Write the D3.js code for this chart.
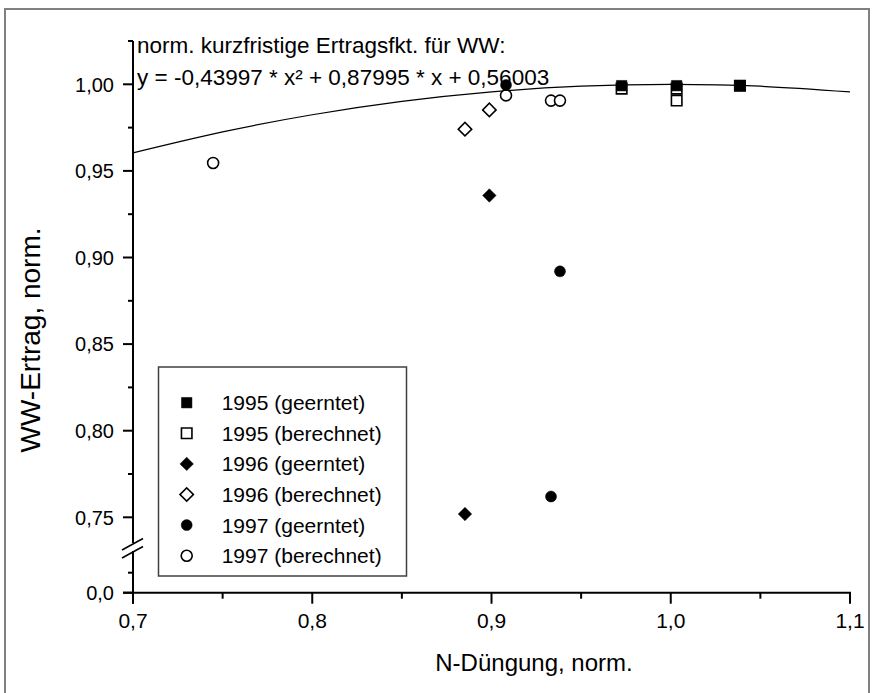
<!DOCTYPE html>
<html>
<head>
<meta charset="utf-8">
<script src="https://cdn.jsdelivr.net/npm/d3@7"></script>
<style>
	body { margin: 0; background: #fff; }
	svg { display: block; font-family: Arial, 'Liberation Sans', sans-serif; }
	.tick-label { font-size: 20px; fill: #000; }
	.legend-text { font-size: 21px; fill: #000; }
</style>
</head>
<body>
<svg id="chart"></svg>
<script>
// Series values
const seriesNames = [
	'1995 (geerntet)',
	'1995 (berechnet)',
	'1996 (geerntet)',
	'1996 (berechnet)',
	'1997 (geerntet)',
	'1997 (berechnet)',
];
const symbols = [ 'square', 'square', 'diamond', 'diamond', 'circle', 'circle' ];
const filled = [ true, false, true, false, true, false ];

const x1995geerntet = [ 0.9726, 1.0033, 1.0386 ];
const y1995geerntet = [ 0.9992, 0.9992, 0.9992 ];
const x1995berechnet = [ 0.9726, 1.0033, 1.0033, 1.0386 ];
const y1995berechnet = [ 0.9975, 0.9975, 0.9906, 0.9992 ];
const x1996geerntet = [ 0.8988, 0.8852 ];
const y1996geerntet = [ 0.9358, 0.7519 ];
const x1996berechnet = [ 0.8852, 0.8988 ];
const y1996berechnet = [ 0.9741, 0.9852 ];
const x1997geerntet = [ 0.9081, 0.9382, 0.9332 ];
const y1997geerntet = [ 0.9996, 0.8920, 0.7620 ];
const x1997berechnet = [ 0.7447, 0.9081, 0.9332, 0.9382 ];
const y1997berechnet = [ 0.9546, 0.9936, 0.9906, 0.9906 ];

// Fitted curve, points
const curveX = [ 0.70, 0.75, 0.80, 0.85, 0.90, 0.95, 1.00, 1.05, 1.10 ];
const curveY = [ 0.9604, 0.9725, 0.9824, 0.9901, 0.9956, 0.9989, 1.0000, 0.9989, 0.9956 ];

// Tick labels
const xTickValues = [ 0.7, 0.8, 0.9, 1.0, 1.1 ];
const xTickLabels = [ '0,7', '0,8', '0,9', '1,0', '1,1' ];
const yTickValues = [ 0.75, 0.80, 0.85, 0.90, 0.95, 1.00 ];
const yTickLabels = [ '0,75', '0,80', '0,85', '0,90', '0,95', '1,00' ];
const yLowTickValues = [ 0 ];
const yLowTickLabels = [ '0,0' ];

const fitLine1 = 'norm. kurzfristige Ertragsfkt. für WW:';
const fitLine2 = 'y = -0,43997 * x² + 0,87995 * x + 0,56003';

const seriesX = [ x1995geerntet, x1995berechnet, x1996geerntet, x1996berechnet, x1997geerntet, x1997berechnet ];
const seriesY = [ y1995geerntet, y1995berechnet, y1996geerntet, y1996berechnet, y1997geerntet, y1997berechnet ];

// Diamonds are squares turned by 45 degrees
function symbolPath( type ) {
	if ( type === 'circle' ) {
		return d3.symbol().type( d3.symbolCircle ).size( 95 )();
	}
	if ( type === 'diamond' ) {
		return d3.symbol().type( d3.symbolSquare ).size( 90 )();
	}
	return d3.symbol().type( d3.symbolSquare ).size( 110 )();
}

function symbolTransform( type, px, py ) {
	return `translate(${ px },${ py })` + ( type === 'diamond' ? ' rotate(45)' : '' );
}

function drawChart( selector ) {
	const width = 872;
	const height = 693;

	const svg = d3.select( selector )
		.attr( 'width', width )
		.attr( 'height', height );

	// Outer frame
	svg.append( 'rect' )
		.attr( 'x', 5 )
		.attr( 'y', 9 )
		.attr( 'width', 864 )
		.attr( 'height', 720 )
		.attr( 'fill', 'none' )
		.attr( 'stroke', '#808080' )
		.attr( 'stroke-width', 2 );

	// Scales: upper part of the broken axis and the lower stub
	const xScale = d3.scaleLinear()
		.domain( [ 0.7, 1.1 ] )
		.range( [ 133, 850 ] );

	const yScale = d3.scaleLinear()
		.domain( [ 0.75, 1.0 ] )
		.range( [ 517.3, 84.3 ] );

	const yLowScale = d3.scaleLinear()
		.domain( [ 0, 0.05 ] )
		.range( [ 592.7, 552.7 ] );

	const axisX = xScale( 0.7 );
	const axisY = yLowScale( 0 );
	const breakTop = 543;
	const breakBottom = 551;

	const g = svg.append( 'g' );

	// Fit curve
	const curveData = curveX.map( ( d, i ) => [ d, curveY[ i ] ] );
	g.append( 'path' )
		.datum( curveData )
		.attr( 'fill', 'none' )
		.attr( 'stroke', '#000' )
		.attr( 'stroke-width', 1.2 )
		.attr( 'd', d3.line()
			.x( ( d ) => xScale( d[ 0 ] ) )
			.y( ( d ) => yScale( d[ 1 ] ) )
			.curve( d3.curveNatural ) );

	// Y axis (upper part)
	g.append( 'line' )
		.attr( 'x1', axisX ).attr( 'x2', axisX )
		.attr( 'y1', yScale( 1.025 ) ).attr( 'y2', breakTop )
		.attr( 'stroke', '#000' ).attr( 'stroke-width', 2 );

	// Y axis (lower part)
	g.append( 'line' )
		.attr( 'x1', axisX ).attr( 'x2', axisX )
		.attr( 'y1', breakBottom ).attr( 'y2', axisY + 11 )
		.attr( 'stroke', '#000' ).attr( 'stroke-width', 2 );

	// Break marks
	[ 0, 8 ].forEach( ( off ) => {
		g.append( 'line' )
			.attr( 'x1', axisX - 11 ).attr( 'y1', 550 + off )
			.attr( 'x2', axisX + 10 ).attr( 'y2', 538.5 + off )
			.attr( 'stroke', '#000' ).attr( 'stroke-width', 1.5 );
	} );

	// Y ticks
	const yMinor = d3.range( 0.75, 1.03, 0.025 ).filter( ( v ) => Math.abs( v * 20 - Math.round( v * 20 ) ) > 0.01 );
	yMinor.forEach( ( v ) => {
		g.append( 'line' )
			.attr( 'x1', axisX - 5 ).attr( 'x2', axisX )
			.attr( 'y1', yScale( v ) ).attr( 'y2', yScale( v ) )
			.attr( 'stroke', '#000' ).attr( 'stroke-width', 2 );
	} );
	g.append( 'line' )
		.attr( 'x1', axisX - 5 ).attr( 'x2', axisX )
		.attr( 'y1', yLowScale( 0.025 ) ).attr( 'y2', yLowScale( 0.025 ) )
		.attr( 'stroke', '#000' ).attr( 'stroke-width', 2 );

	yTickValues.forEach( ( v, i ) => {
		g.append( 'line' )
			.attr( 'x1', axisX - 10 ).attr( 'x2', axisX )
			.attr( 'y1', yScale( v ) ).attr( 'y2', yScale( v ) )
			.attr( 'stroke', '#000' ).attr( 'stroke-width', 2 );
		g.append( 'text' )
			.attr( 'class', 'tick-label' )
			.attr( 'x', axisX - 19 )
			.attr( 'y', yScale( v ) )
			.attr( 'dy', '0.36em' )
			.attr( 'text-anchor', 'end' )
			.text( yTickLabels[ i ] );
	} );
	yLowTickValues.forEach( ( v, i ) => {
		g.append( 'line' )
			.attr( 'x1', axisX - 10 ).attr( 'x2', axisX )
			.attr( 'y1', yLowScale( v ) ).attr( 'y2', yLowScale( v ) )
			.attr( 'stroke', '#000' ).attr( 'stroke-width', 2 );
		g.append( 'text' )
			.attr( 'class', 'tick-label' )
			.attr( 'x', axisX - 19 )
			.attr( 'y', yLowScale( v ) )
			.attr( 'dy', '0.36em' )
			.attr( 'text-anchor', 'end' )
			.text( yLowTickLabels[ i ] );
	} );

	// X axis
	g.append( 'line' )
		.attr( 'x1', axisX - 10 ).attr( 'x2', xScale( 1.1 ) + 1 )
		.attr( 'y1', axisY ).attr( 'y2', axisY )
		.attr( 'stroke', '#000' ).attr( 'stroke-width', 2 );

	d3.range( 0.75, 1.1, 0.1 ).forEach( ( v ) => {
		g.append( 'line' )
			.attr( 'x1', xScale( v ) ).attr( 'x2', xScale( v ) )
			.attr( 'y1', axisY ).attr( 'y2', axisY + 6 )
			.attr( 'stroke', '#000' ).attr( 'stroke-width', 2 );
	} );
	xTickValues.forEach( ( v, i ) => {
		g.append( 'line' )
			.attr( 'x1', xScale( v ) ).attr( 'x2', xScale( v ) )
			.attr( 'y1', axisY ).attr( 'y2', axisY + 11 )
			.attr( 'stroke', '#000' ).attr( 'stroke-width', 2 );
		g.append( 'text' )
			.attr( 'class', 'tick-label' )
			.attr( 'x', xScale( v ) )
			.attr( 'y', axisY + 35 )
			.attr( 'text-anchor', 'middle' )
			.style( 'font-size', '21px' )
			.text( xTickLabels[ i ] );
	} );

	// Axis titles
	svg.append( 'text' )
		.attr( 'x', 534 )
		.attr( 'y', 671 )
		.attr( 'text-anchor', 'middle' )
		.style( 'font-size', '24px' )
		.text( 'N-Düngung, norm.' );

	svg.append( 'text' )
		.attr( 'transform', 'translate(40,340) rotate(-90)' )
		.attr( 'text-anchor', 'middle' )
		.style( 'font-size', '28px' )
		.text( 'WW-Ertrag, norm.' );

	// Fit equation
	svg.append( 'text' )
		.attr( 'x', 137 )
		.attr( 'y', 53 )
		.style( 'font-size', '22.5px' )
		.text( fitLine1 );
	svg.append( 'text' )
		.attr( 'x', 137 )
		.attr( 'y', 85 )
		.style( 'font-size', '22.5px' )
		.text( fitLine2 );

	// Data points (open symbols first, filled on top)
	const order = [ 1, 3, 5, 0, 2, 4 ];
	order.forEach( ( s ) => {
		const pts = seriesX[ s ].map( ( d, i ) => [ d, seriesY[ s ][ i ] ] );
		g.selectAll( null )
			.data( pts )
			.enter()
			.append( 'path' )
			.attr( 'transform', ( d ) => {
				const py = d[ 1 ] >= 0.7 ? yScale( d[ 1 ] ) : yLowScale( d[ 1 ] );
				return symbolTransform( symbols[ s ], xScale( d[ 0 ] ), py );
			} )
			.attr( 'd', symbolPath( symbols[ s ] ) )
			.attr( 'fill', filled[ s ] ? '#000' : '#fff' )
			.attr( 'stroke', '#000' )
			.attr( 'stroke-width', filled[ s ] ? 0.5 : 1.6 );
	} );

	// Legend
	const legend = svg.append( 'g' );
	legend.append( 'rect' )
		.attr( 'x', 158.5 )
		.attr( 'y', 367 )
		.attr( 'width', 248 )
		.attr( 'height', 209 )
		.attr( 'fill', '#fff' )
		.attr( 'stroke', '#404040' )
		.attr( 'stroke-width', 1.5 );

	seriesNames.forEach( ( name, i ) => {
		const cy = 402.7 + i * 30.6;
		legend.append( 'path' )
			.attr( 'transform', symbolTransform( symbols[ i ], 186.7, cy ) )
			.attr( 'd', symbolPath( symbols[ i ] ) )
			.attr( 'fill', filled[ i ] ? '#000' : '#fff' )
			.attr( 'stroke', '#000' )
			.attr( 'stroke-width', filled[ i ] ? 0.5 : 1.6 );
		legend.append( 'text' )
			.attr( 'class', 'legend-text' )
			.attr( 'x', 221.7 )
			.attr( 'y', cy )
			.attr( 'dy', '0.36em' )
			.text( name );
	} );
}

drawChart( '#chart' );
</script>
</body>
</html>
